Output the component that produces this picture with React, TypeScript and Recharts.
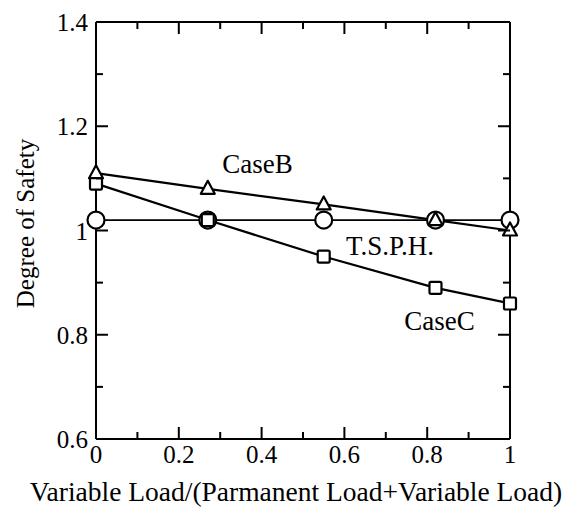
import { LineChart, Line, XAxis, YAxis, ReferenceDot } from 'recharts'

// x = variable load / (permanent load + variable load)
const loadRatio = [0, 0.27, 0.55, 0.82, 1]
const tsph = [1.02, 1.02, 1.02, 1.02, 1.02]
const caseB = [1.11, 1.08, 1.05, 1.02, 1.0]
const caseC = [1.09, 1.02, 0.95, 0.89, 0.86]

const xTicks = [0, 0.1, 0.2, 0.3, 0.4, 0.5, 0.6, 0.7, 0.8, 0.9, 1]
const xMajor = [0, 0.2, 0.4, 0.6, 0.8, 1]
const yTicks = [0.6, 0.7, 0.8, 0.9, 1.0, 1.1, 1.2, 1.3, 1.4]
const yMajor = [0.6, 0.8, 1.0, 1.2, 1.4]

const data = loadRatio.map((x, i) => ({
  x,
  tsph: tsph[i],
  caseB: caseB[i],
  caseC: caseC[i],
}))

// layout
const W = 580
const H = 507
const TOP = 22
const LEFT = 96
const RIGHT = 70
const BOTTOM = 68
const PLOT_W = W - LEFT - RIGHT
const PLOT_H = H - TOP - BOTTOM

const INK = '#000'
const MAJOR = 12
const MINOR = 7
const FONT = "'Times New Roman', Times, serif"

// bottom ticks also draw the matching inward tick on the top edge
const BottomTick = ({ x, y, payload }: any) => {
  const len = xMajor.includes(payload.value) ? MAJOR : MINOR
  const top = y - PLOT_H
  return (
    <g>
      <line x1={x} x2={x} y1={y} y2={y - len} stroke={INK} strokeWidth={2} />
      <line x1={x} x2={x} y1={top} y2={top + len} stroke={INK} strokeWidth={2} />
      {len === MAJOR && (
        <text x={x} y={y + 24} textAnchor="middle" fontFamily={FONT} fontSize={25} fill={INK}>
          {String(payload.value)}
        </text>
      )}
    </g>
  )
}

// left ticks also draw the matching inward tick on the right edge
const LeftTick = ({ x, y, payload }: any) => {
  const len = yMajor.includes(payload.value) ? MAJOR : MINOR
  const right = x + PLOT_W
  return (
    <g>
      <line x1={x} x2={x + len} y1={y} y2={y} stroke={INK} strokeWidth={2} />
      <line x1={right} x2={right - len} y1={y} y2={y} stroke={INK} strokeWidth={2} />
      {len === MAJOR && (
        <text x={x - 8} y={y + 9} textAnchor="end" fontFamily={FONT} fontSize={25} fill={INK}>
          {String(payload.value)}
        </text>
      )}
    </g>
  )
}

const Triangle = ({ cx, cy }: any) => (
  <path
    d={`M${cx},${cy - 8} L${cx + 7},${cy + 5} L${cx - 7},${cy + 5} Z`}
    fill="#fff"
    stroke={INK}
    strokeWidth={2.2}
    strokeLinejoin="round"
  />
)

const Square = ({ cx, cy }: any) => (
  <rect x={cx - 6} y={cy - 6} width={12} height={12} rx={1.5} fill="#fff" stroke={INK} strokeWidth={2.2} />
)

const note = (text: string) => (props: any) => {
  const { x, y, width } = props.viewBox
  return (
    <text x={x + width / 2} y={y} textAnchor="middle" fontFamily={FONT} fontSize={27} fill={INK}>
      {text}
    </text>
  )
}

const axisLine = { stroke: INK, strokeWidth: 2 }

export default function App() {
  return (
    <div style={{ position: 'absolute', left: 0, top: 0, background: '#fff', fontFamily: FONT }}>
      <LineChart width={W} height={H} data={data} margin={{ top: 0, right: 0, bottom: 0, left: 0 }}>
        <XAxis
          xAxisId="b"
          dataKey="x"
          type="number"
          domain={[0, 1]}
          ticks={xTicks}
          interval={0}
          height={BOTTOM}
          tickSize={0}
          tickMargin={0}
          tickLine={false}
          tick={<BottomTick />}
          axisLine={axisLine}
          label={{
            content: (p: any) => (
              <text
                x={p.viewBox.x + p.viewBox.width / 2 - 7}
                y={p.viewBox.y + 62}
                textAnchor="middle"
                fontFamily={FONT}
                fontSize={27.5}
                fill={INK}
              >
                Variable Load/(Parmanent Load+Variable Load)
              </text>
            ),
          }}
        />
        <XAxis xAxisId="t" orientation="top" height={TOP} tick={false} tickLine={false} axisLine={axisLine} />
        <YAxis
          yAxisId="l"
          type="number"
          domain={[0.6, 1.4]}
          ticks={yTicks}
          interval={0}
          width={LEFT}
          tickSize={0}
          tickMargin={0}
          tickLine={false}
          tick={<LeftTick />}
          axisLine={axisLine}
          label={{
            content: (p: any) => {
              const cx = 25
              const cy = p.viewBox.y + p.viewBox.height / 2 - 7
              return (
                <text
                  x={cx}
                  y={cy}
                  transform={`rotate(-90 ${cx} ${cy})`}
                  textAnchor="middle"
                  dominantBaseline="central"
                  fontFamily={FONT}
                  fontSize={25}
                  fill={INK}
                >
                  Degree of Safety
                </text>
              )
            },
          }}
        />
        <YAxis yAxisId="r" orientation="right" width={RIGHT} tick={false} tickLine={false} axisLine={axisLine} />
        <Line
          xAxisId="b"
          yAxisId="l"
          dataKey="tsph"
          stroke={INK}
          strokeWidth={1.8}
          dot={{ r: 8.5, fill: '#fff', stroke: INK, strokeWidth: 2.2 }}
          isAnimationActive={false}
        />
        <Line
          xAxisId="b"
          yAxisId="l"
          dataKey="caseC"
          stroke={INK}
          strokeWidth={2.2}
          dot={<Square />}
          isAnimationActive={false}
        />
        <Line
          xAxisId="b"
          yAxisId="l"
          dataKey="caseB"
          stroke={INK}
          strokeWidth={2.2}
          dot={<Triangle />}
          isAnimationActive={false}
        />
        <ReferenceDot xAxisId="b" yAxisId="l" x={0.39} y={1.11} r={0} label={{ content: note('CaseB') }} />
        <ReferenceDot xAxisId="b" yAxisId="l" x={0.71} y={0.953} r={0} label={{ content: note('T.S.P.H.') }} />
        <ReferenceDot xAxisId="b" yAxisId="l" x={0.83} y={0.809} r={0} label={{ content: note('CaseC') }} />
      </LineChart>
    </div>
  )
}
